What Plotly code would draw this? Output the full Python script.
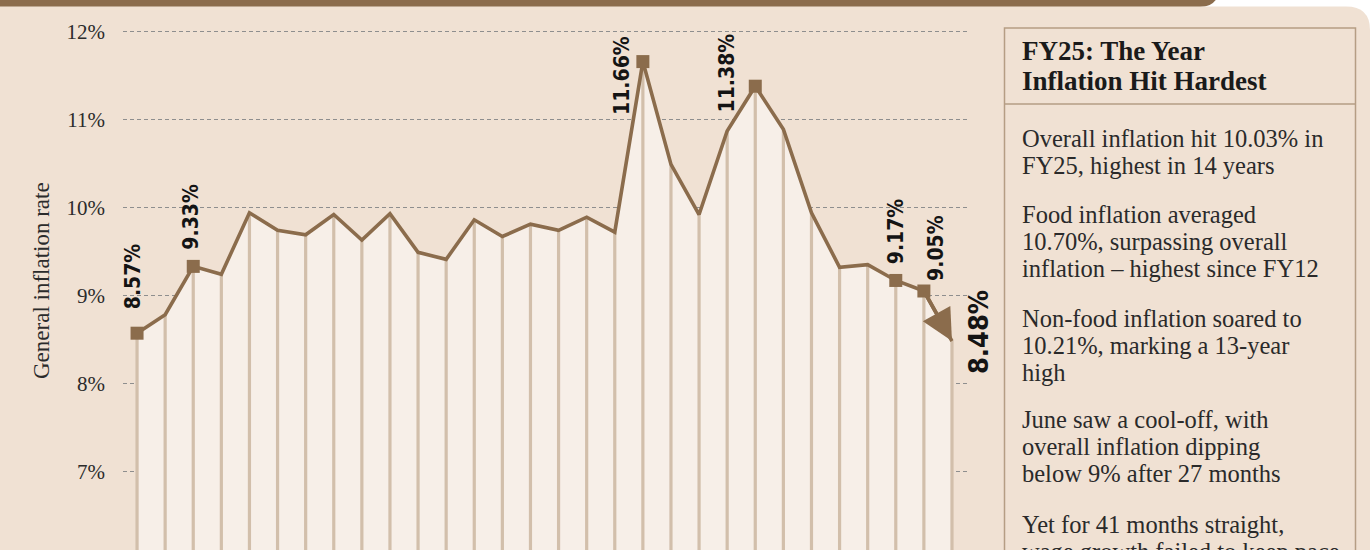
import plotly.graph_objects as go

# ---------------- data ----------------
months = ["Jan 23", "Feb 23", "Mar 23", "Apr 23", "May 23", "Jun 23", "Jul 23", "Aug 23",
          "Sep 23", "Oct 23", "Nov 23", "Dec 23", "Jan 24", "Feb 24", "Mar 24", "Apr 24",
          "May 24", "Jun 24", "Jul 24", "Aug 24", "Sep 24", "Oct 24", "Nov 24", "Dec 24",
          "Jan 25", "Feb 25", "Mar 25", "Apr 25", "May 25", "Jun 25"]
inflation = [8.57, 8.78, 9.33, 9.24, 9.94, 9.74, 9.69, 9.92, 9.63, 9.93, 9.49, 9.41,
             9.86, 9.67, 9.81, 9.74, 9.89, 9.72, 11.66, 10.49, 9.92, 10.87, 11.38, 10.89,
             9.94, 9.32, 9.35, 9.17, 9.05, 8.48]
labelled = [0, 2, 18, 22, 27, 28]
last_idx = 29
y_ticks = [6, 7, 8, 9, 10, 11, 12]
y_ticktext = ["6%", "7%", "8%", "9%", "10%", "11%", "12%"]

panel_title = ["FY25: The Year", "Inflation Hit Hardest"]
panel_paras = [
    ["Overall inflation hit 10.03% in", "FY25, highest in 14 years"],
    ["Food inflation averaged", "10.70%, surpassing overall", "inflation \u2013 highest since FY12"],
    ["Non-food inflation soared to", "10.21%, marking a 13-year", "high"],
    ["June saw a cool-off, with", "overall inflation dipping", "below 9% after 27 months"],
    ["Yet for 41 months straight,", "wage growth failed to keep pace"],
]

# ---------------- style ----------------
BROWN = "#8b6c4c"
BG = "#f0e1d3"
FILL = "#f7efe8"
BAR = "#d2bfab"
W, H = 1370, 550
L, R, T, B = 123, 402, 15, 0
PW, PH = W - L - R, H - T - B


def px(xp):
    return (xp - L) / PW


def py(yp):
    return 1 - (yp - T) / PH


x_idx = list(range(len(inflation)))

fig = go.Figure()

# area under the line
fig.add_trace(go.Scatter(x=x_idx, y=inflation, mode="lines", line=dict(width=0),
                         fill="tozeroy", fillcolor=FILL, hoverinfo="skip"))
# vertical month bars
bx, by = [], []
for i, v in zip(x_idx, inflation):
    bx += [i, i, None]
    by += [v, 0, None]
fig.add_trace(go.Scatter(x=bx, y=by, mode="lines", line=dict(color=BAR, width=3.2),
                         hoverinfo="skip"))
# main line
fig.add_trace(go.Scatter(x=x_idx, y=inflation, mode="lines",
                         line=dict(color=BROWN, width=3.6), hoverinfo="skip"))
# square markers
fig.add_trace(go.Scatter(x=[x_idx[i] for i in labelled], y=[inflation[i] for i in labelled],
                         mode="markers", marker=dict(symbol="square", size=13, color=BROWN),
                         hoverinfo="skip"))

# ---------------- shapes (background card etc.) ----------------
shapes = []
shapes.append(dict(type="path", xref="paper", yref="paper", layer="below",
                   path=f"M {px(0)},{py(-2)} L {px(1217)},{py(-2)} Q {px(1212)},{py(7)} {px(1200)},{py(7)} L {px(0)},{py(7)} Z",
                   fillcolor=BROWN, line=dict(width=0)))
shapes.append(dict(type="path", xref="paper", yref="paper", layer="below",
                   path=(f"M {px(0)},{py(6.5)} L {px(1346)},{py(6.5)} "
                         f"Q {px(1370)},{py(6.5)} {px(1370)},{py(30)} "
                         f"L {px(1370)},{py(560)} L {px(0)},{py(560)} Z"),
                   fillcolor=BG, line=dict(width=0)))
BOXC = "#b59d84"
shapes.append(dict(type="rect", xref="paper", yref="paper", layer="below",
                   x0=px(1004.5), x1=px(1355.5), y0=py(28), y1=py(600),
                   line=dict(color=BOXC, width=1.5)))
shapes.append(dict(type="line", xref="paper", yref="paper", layer="below",
                   x0=px(1004.5), x1=px(1355.5), y0=py(104), y1=py(104),
                   line=dict(color=BOXC, width=1.5)))

# ---------------- annotations ----------------
ann = []
LABEL_FONT = "DejaVu Sans Condensed, Liberation Sans Narrow, Roboto, sans-serif"
offsets = {0: (-4, 57), 2: (-2, 50), 18: (-21, -13.5), 22: (-28, 13), 27: (1, 49), 28: (12, 43)}
for i in labelled:
    dx, dy = offsets[i]
    ann.append(dict(x=x_idx[i], y=inflation[i], xref="x", yref="y",
                    text=f"<b>{inflation[i]:.2f}%</b>",
                    showarrow=False, textangle=-90, xanchor="center", yanchor="middle",
                    xshift=dx, yshift=dy, font=dict(family=LABEL_FONT, size=21, color="#141414")))
ann.append(dict(x=x_idx[last_idx], y=inflation[last_idx], xref="x", yref="y",
                text=f"<b>{inflation[last_idx]:.2f}%</b>", showarrow=False, textangle=-90,
                xanchor="center", yanchor="middle", xshift=26, yshift=9,
                font=dict(family=LABEL_FONT, size=27, color="#141414")))
# arrow on the final segment
ann.append(dict(x=x_idx[last_idx], y=inflation[last_idx], xref="x", yref="y",
                ax=x_idx[last_idx - 1], ay=inflation[last_idx - 1], axref="x", ayref="y",
                text="", showarrow=True, arrowhead=2, arrowsize=1.75, arrowwidth=3.6,
                arrowcolor=BROWN, standoff=0))
# y-axis title
ann.append(dict(x=px(41), y=py(281), xref="paper", yref="paper", text="General inflation rate",
                showarrow=False, textangle=-90, xanchor="center", yanchor="middle",
                font=dict(family="Liberation Serif, serif", size=23, color="#2b2b2b")))

SERIF = "Liberation Serif, Times New Roman, serif"


def add_line(text, baseline, size, bold=False):
    center = baseline - 0.34 * size
    t = f"<b>{text}</b>" if bold else text
    ann.append(dict(x=px(1020), y=py(center), xref="paper", yref="paper", text=t,
                    showarrow=False, xanchor="left", yanchor="middle", align="left",
                    font=dict(family=SERIF, size=size, color="#1a1a1a" if bold else "#2a2a2a")))


for k, line in enumerate(panel_title):
    add_line(line, 60 + 30 * k, 27, bold=True)

para_starts = [146.7, 222.7, 326.7, 427.7, 533]
for start, para in zip(para_starts, panel_paras):
    for k, line in enumerate(para):
        add_line(line, start + 27.3 * k, 24.5)

# ---------------- layout ----------------
y_top = 12 + (31.7 - T) / 87.9
y_bot = 12 - (H - B - 31.7) / 87.9
fig.update_layout(
    width=W, height=H,
    margin=dict(l=L, r=R, t=T, b=B, pad=0),
    paper_bgcolor="white", plot_bgcolor="rgba(0,0,0,0)",
    showlegend=False, hovermode=False,
    shapes=shapes, annotations=ann,
    xaxis=dict(range=[-0.5, 29.57], showgrid=False, zeroline=False, showticklabels=False,
               showline=False, fixedrange=True),
    yaxis=dict(range=[y_bot, y_top], tickvals=y_ticks, ticktext=y_ticktext,
               showgrid=True, gridcolor="#8e8e8e", gridwidth=1, griddash="4px,3px",
               zeroline=False, showline=False, ticks="", ticklabelstandoff=17,
               tickfont=dict(family=SERIF, size=21, color="#2b2b2b"), fixedrange=True),
)

fig.write_html("out.html", config={"displayModeBar": False},
               post_script="document.body.style.margin='0';document.body.style.overflow='hidden';")
